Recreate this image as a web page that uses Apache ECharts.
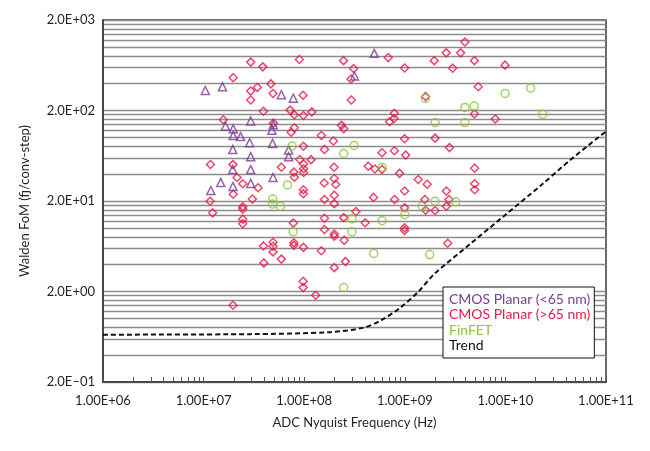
<!DOCTYPE html>
<html>
<head>
<meta charset="utf-8">
<script src="https://cdn.jsdelivr.net/npm/echarts@6/dist/echarts.min.js"></script>
<style>
  html, body { margin: 0; padding: 0; background: #fff; }
  #chart { width: 650px; height: 451px; }
</style>
</head>
<body>
<div id="chart"></div>
<script>
const PURPLE = '#7a3b96';
const RED = '#e5194a';
const GREEN = '#8cc540';

// [Nyquist frequency (Hz), Walden FoM (fJ/conv-step)]
const cmosSmall = [
  [1.04e7, 333], [1.54e7, 367], [5.93e7, 299], [7.8e7, 274], [2.94e7, 153],
  [1.65e7, 134], [1.97e7, 126], [1.97e7, 106], [2.33e7, 103], [4.93e7, 139],
  [4.77e7, 121], [2.87e7, 88], [4.85e7, 86.5], [1.95e7, 74.3], [7.0e7, 73.3],
  [2.94e7, 61.8], [7.0e7, 61.8], [1.95e7, 44.6], [2.94e7, 44.5], [4.9e7, 36.4],
  [1.48e7, 32.1], [1.18e7, 26.1], [1.96e7, 28.9], [2.94e7, 31.3], [4.97e8, 857],
  [3.16e8, 481]
];

const cmosLarge = [
  [2.94e7, 685], [3.88e7, 607], [8.96e7, 731], [1.97e7, 461], [4.66e7, 394],
  [3.42e7, 360], [2.94e7, 328], [4.9e7, 308], [9.75e7, 295], [2.94e7, 261],
  [3.93e7, 196], [7.24e7, 202], [7.98e7, 179], [9.82e7, 176], [1.19e8, 193],
  [1.57e7, 158], [4.95e7, 145], [7.98e7, 129], [7.41e7, 115], [1.48e8, 106],
  [9.82e7, 80.5], [1.59e8, 74.3], [1.17e7, 50.7], [1.96e7, 50.5], [5.93e7, 47.3],
  [9.02e7, 57.5], [1.17e8, 57.3], [9.86e7, 51.3], [9.86e7, 45.5], [9.86e7, 41.3],
  [7.89e7, 41.7], [2.15e7, 36.4], [7.98e7, 36.6], [2.46e8, 711], [3.1e8, 582],
  [2.92e8, 445], [2.94e8, 261], [6.85e8, 769], [9.95e8, 589], [3.96e9, 1143],
  [2.58e9, 867], [3.59e9, 867], [1.96e9, 711], [4.92e9, 711], [2.99e9, 587],
  [9.91e9, 634], [5.37e9, 366], [1.61e9, 285], [7.86e8, 186], [7.82e8, 163],
  [7.06e8, 150], [4.92e9, 183], [7.93e9, 161], [2.35e8, 137], [2.47e8, 126],
  [9.95e8, 97.5], [2.0e9, 99], [1.95e8, 92.2], [2.78e9, 77.8], [7.88e8, 71.8],
  [5.94e8, 68.2], [1.02e9, 64.3], [1.98e8, 47.3], [4.33e8, 48.5], [5.04e8, 45.1],
  [5.94e8, 44.6], [8.87e8, 40.4], [4.95e9, 46.1], [1.36e9, 34.6], [1.99e8, 35.5],
  [2.06e8, 30.5], [1.58e8, 31.6], [1.67e9, 30.6], [4.95e9, 31.0], [4.95e9, 26.6],
  [9.95e8, 25.8], [2.59e9, 25.8], [2.45e7, 31.0], [3.48e7, 28.0], [1.97e7, 23.8],
  [9.82e7, 26.6], [9.82e7, 24.1], [1.59e8, 20.8], [1.99e8, 23.2], [1.99e8, 18.7],
  [4.89e8, 21.9], [7.91e8, 20.8], [1.16e7, 19.9], [1.23e7, 14.8], [2.45e7, 17.3],
  [2.45e7, 16.3], [2.45e7, 12.6], [2.45e7, 11.2], [3.06e7, 21.0], [1.59e8, 12.9],
  [1.59e8, 9.68], [7.8e7, 11.4], [2.47e8, 13.1], [3.27e8, 15.3], [4.04e8, 11.5],
  [9.95e8, 16.8], [9.95e8, 10.1], [9.95e8, 9.44], [1.99e8, 8.63], [1.99e8, 8.15],
  [2.5e8, 7.35], [4.9e7, 7.0], [4.9e7, 6.32], [4.9e7, 5.48], [3.94e7, 6.38],
  [7.89e7, 6.9], [7.89e7, 6.47], [9.82e7, 6.15], [1.48e8, 5.64], [5.93e7, 4.56],
  [3.97e7, 4.14], [2.57e8, 4.28], [1.99e8, 3.67], [9.77e7, 2.59], [9.77e7, 2.21],
  [1.3e8, 1.82], [1.96e7, 1.41], [1.58e9, 20.8], [2.75e9, 20.8], [1.61e9, 15.8],
  [2.0e9, 15.7], [2.59e9, 17.5], [2.67e9, 6.82]
];

const finfet = [
  [7.58e7, 80.8], [3.14e8, 82.2], [2.47e8, 67], [5.96e8, 47], [6.83e7, 30.1],
  [4.86e7, 21], [4.86e7, 18.5], [5.82e7, 17.5], [7.77e7, 9.12], [2.99e8, 12.7],
  [5.95e8, 12.1], [2.98e8, 9.12], [4.91e8, 5.27], [1.77e9, 5.12], [2.47e8, 2.21],
  [1.0e9, 14.1], [1.49e9, 17.5], [2.0e9, 19.9], [3.21e9, 19.6], [1.6e9, 272],
  [3.96e9, 216], [4.9e9, 224], [9.93e9, 309], [1.78e10, 354], [2.35e10, 182],
  [2.0e9, 147], [3.96e9, 147]
];

const trend = [
  [1e6, 0.667], [2.91e7, 0.676], [1.82e8, 0.711], [3.89e8, 0.798], [5.74e8, 0.953],
  [9.08e8, 1.33], [1.37e9, 2.0], [1.94e9, 3.08], [4.52e9, 6.78], [1.01e10, 14.2],
  [2.25e10, 29.7], [4.48e10, 57.6], [1e11, 117.5]
];

// axis ticks and labels
const xLabelValues = [1e6, 1e7, 1e8, 1e9, 1e10, 1e11];
const xTickValues = [];
[1e6, 1e7, 1e8, 1e9, 1e10].forEach(d => {
  [1, 2, 3, 4, 5, 6, 7, 8, 9].forEach(m => xTickValues.push(m * d));
});
xTickValues.push(1e11);

const yLabelValues = [0.2, 2, 20, 200, 2000];
const yGridValues = [];
[0.1, 1, 10, 100].forEach(d => {
  [2, 4, 6, 8, 10, 12, 14, 16, 18].forEach(m => yGridValues.push(+(m * d).toPrecision(3)));
});
yGridValues.push(2000);

const pad2 = n => (n < 10 ? '0' : '') + n;
const FONT = 'Lato';

const option = {
  animation: false,
  grid: { left: 103, right: 44, top: 20, bottom: 69, show: true, borderColor: '#3a3a3a', borderWidth: 1.5 },
  xAxis: {
    type: 'log',
    logBase: 10,
    min: 1e6,
    max: 1e11,
    name: 'ADC Nyquist Frequency (Hz)',
    nameLocation: 'middle',
    nameGap: 34,
    nameTextStyle: { fontFamily: FONT, fontSize: 13, color: '#231f20' },
    axisLine: { lineStyle: { color: '#3a3a3a', width: 1.5 } },
    axisTick: { show: true, inside: true, length: 5, customValues: xTickValues, lineStyle: { color: '#555', width: 1 } },
    axisLabel: {
      customValues: xLabelValues,
      fontFamily: FONT, fontSize: 13, color: '#231f20', margin: 12,
      formatter: v => '1.00E+' + pad2(Math.round(Math.log10(v)))
    },
    splitLine: { show: false }
  },
  yAxis: {
    type: 'log',
    logBase: 10,
    min: 0.2,
    max: 2000,
    name: 'Walden FoM (fj/conv-step)',
    nameLocation: 'middle',
    nameGap: 72,
    nameTextStyle: { fontFamily: FONT, fontSize: 13, color: '#231f20' },
    axisLine: { lineStyle: { color: '#3a3a3a', width: 1.5 } },
    axisTick: { show: false, customValues: yGridValues },
    axisLabel: {
      customValues: yLabelValues,
      fontFamily: FONT, fontSize: 13, color: '#231f20', margin: 8,
      formatter: v => {
        const e = Math.round(Math.log10(v / 2));
        return '2.0E' + (e < 0 ? '\u2013' : '+') + pad2(Math.abs(e));
      }
    },
    splitLine: { show: true, lineStyle: { color: '#8c8c8c', width: 1.3 } }
  },
  legend: {
    orient: 'vertical',
    left: 443,
    top: 287,
    padding: [5, 4, 5, 1],
    itemGap: 1,
    itemWidth: 0,
    itemHeight: 0,
    selectedMode: false,
    backgroundColor: '#fff',
    borderColor: '#111',
    borderWidth: 1,
    textStyle: { fontFamily: FONT, fontSize: 14, lineHeight: 14.5 },
    data: [
      { name: 'CMOS Planar (<65 nm)', icon: 'none', textStyle: { color: PURPLE } },
      { name: 'CMOS Planar (>65 nm)', icon: 'none', textStyle: { color: RED } },
      { name: 'FinFET', icon: 'none', textStyle: { color: GREEN } },
      { name: 'Trend', icon: 'none', textStyle: { color: '#111' } }
    ]
  },
  series: [
    {
      name: 'CMOS Planar (>65 nm)',
      type: 'scatter',
      symbol: 'diamond',
      symbolSize: 8,
      itemStyle: { color: 'rgba(0,0,0,0)', borderColor: RED, borderWidth: 1.5 },
      data: cmosLarge
    },
    {
      name: 'CMOS Planar (<65 nm)',
      type: 'scatter',
      symbol: 'triangle',
      symbolSize: 8,
      itemStyle: { color: 'rgba(0,0,0,0)', borderColor: PURPLE, borderWidth: 1.5 },
      data: cmosSmall
    },
    {
      name: 'FinFET',
      type: 'scatter',
      symbol: 'circle',
      symbolSize: 8,
      itemStyle: { color: 'rgba(0,0,0,0)', borderColor: GREEN, borderWidth: 1.5 },
      data: finfet
    },
    {
      name: 'Trend',
      type: 'line',
      showSymbol: false,
      smooth: 0.3,
      lineStyle: { color: '#111', width: 2, type: [5, 3] },
      data: trend
    }
  ]
};

const chart = echarts.init(document.getElementById('chart'), null, { renderer: 'canvas' });
chart.setOption(option);
</script>
</body>
</html>
